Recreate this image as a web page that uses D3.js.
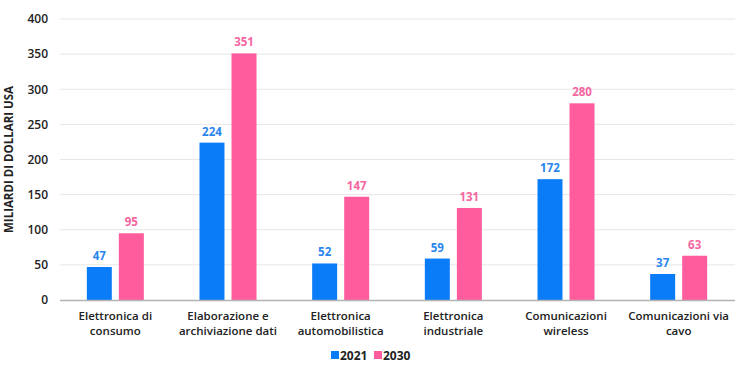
<!DOCTYPE html>
<html>
<head>
<meta charset="utf-8">
<script src="https://cdn.jsdelivr.net/npm/d3@7"></script>
<style>
  body { margin: 0; background: #fff; }
  text { font-family: "Open Sans", Roboto, sans-serif; }
</style>
</head>
<body>
<div id="chart"></div>
<script>
const categories = [
    ["Elettronica di", "consumo"],
    ["Elaborazione e", "archiviazione dati"],
    ["Elettronica", "automobilistica"],
    ["Elettronica", "industriale"],
    ["Comunicazioni", "wireless"],
    ["Comunicazioni via", "cavo"],
];
const series = ["2021", "2030"];
const values2021 = [47, 224, 52, 59, 172, 37];
const values2030 = [95, 351, 147, 131, 280, 63];
const yTicks = [0, 50, 100, 150, 200, 250, 300, 350, 400];

const width = 737, height = 367;
const colors = { "2021": "#0a7cf7", "2030": "#ff5c9d" };
const labelColors = { "2021": "#2a86ee", "2030": "#f5669f" };

const svg = d3.select("#chart")
    .append("svg")
    .attr("width", width)
    .attr("height", height);

const x = d3.scaleBand()
    .domain(d3.range(categories.length))
    .range([59, 735]);

const xSub = d3.scaleBand()
    .domain(series)
    .range([x.bandwidth() / 2 - 28.5, x.bandwidth() / 2 + 28.5])
    .paddingInner(0.22);

const y = d3.scaleLinear()
    .domain([0, 400])
    .range([300, 19]);

// gridlines
svg.append("g")
    .selectAll("line")
    .data(yTicks.filter(d => d > 0))
    .join("line")
    .attr("x1", 60).attr("x2", 735)
    .attr("y1", d => y(d)).attr("y2", d => y(d))
    .attr("stroke", "#e6e6e6")
    .attr("stroke-width", 1);

// y axis labels
const yAxis = d3.axisLeft(y).tickValues(yTicks).tickSize(0).tickPadding(0);
const gy = svg.append("g")
    .attr("transform", "translate(48,0)")
    .call(yAxis);
gy.select(".domain").remove();
gy.selectAll("text")
    .attr("font-size", 12)
    .attr("font-weight", 600)
    .attr("fill", "#222")
    .style("font-family", "'Open Sans', sans-serif");

svg.append("text")
    .attr("transform", `translate(13,${y(200)}) rotate(-90)`)
    .attr("text-anchor", "middle")
    .attr("font-size", 11.5)
    .attr("font-weight", 700)
    .attr("fill", "#222")
    .text("MILIARDI DI DOLLARI USA");

const rows = categories.map((c, i) => ({ i, "2021": values2021[i], "2030": values2030[i] }));

const groups = svg.append("g")
    .selectAll("g")
    .data(rows)
    .join("g")
    .attr("transform", d => `translate(${x(d.i)},0)`);

groups.selectAll("rect")
    .data(d => series.map(s => ({ s, v: d[s] })))
    .join("rect")
    .attr("x", d => xSub(d.s))
    .attr("width", xSub.bandwidth())
    .attr("y", d => y(d.v))
    .attr("height", d => y(0) - y(d.v))
    .attr("fill", d => colors[d.s]);

groups.selectAll("text.val")
    .data(d => series.map(s => ({ s, v: d[s] })))
    .join("text")
    .attr("class", "val")
    .attr("x", d => xSub(d.s) + xSub.bandwidth() / 2)
    .attr("y", d => y(d.v) - 7)
    .attr("text-anchor", "middle")
    .attr("font-size", 11.5)
    .attr("font-weight", 700)
    .attr("fill", d => labelColors[d.s])
    .text(d => d.v);

// baseline
svg.append("line")
    .attr("x1", 60).attr("x2", 735)
    .attr("y1", y(0) + 0.5).attr("y2", y(0) + 0.5)
    .attr("stroke", "#b3b3b3")
    .attr("stroke-width", 1.5);

// category labels
groups.append("text")
    .attr("x", x.bandwidth() / 2)
    .attr("y", 320)
    .attr("text-anchor", "middle")
    .attr("font-size", 11.5)
    .attr("font-weight", 600)
    .attr("fill", "#222")
    .selectAll("tspan")
    .data((d) => categories[d.i])
    .join("tspan")
    .attr("x", x.bandwidth() / 2)
    .attr("dy", (d, i) => i === 0 ? 0 : 14.5)
    .text(d => d);

// legend
const legend = svg.append("g");
const legendX = { "2021": 331, "2030": 374 };
series.forEach(s => {
    legend.append("rect")
        .attr("x", legendX[s])
        .attr("y", 351)
        .attr("width", 8)
        .attr("height", 8)
        .attr("fill", colors[s]);
    legend.append("text")
        .attr("x", legendX[s] + 9)
        .attr("y", 359.5)
        .attr("font-size", 12)
        .attr("font-weight", 700)
        .attr("fill", "#222")
        .text(s);
});
</script>
</body>
</html>
